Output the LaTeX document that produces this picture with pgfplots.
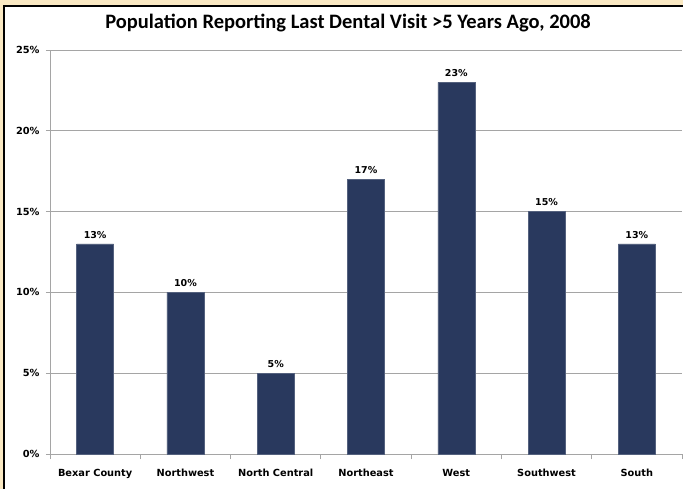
\documentclass[border=0pt]{standalone}
\usepackage{pgfplots}
\pgfplotsset{compat=1.18}
\usepackage{fontspec}
\setmainfont{DejaVu Sans}
\newfontfamily\titlefont{Carlito}
\definecolor{barblue}{RGB}{41,57,94}
\definecolor{outer}{RGB}{250,233,195}
\definecolor{gridc}{RGB}{165,165,165}
\begin{document}
\begin{tikzpicture}[x=1pt,y=1pt]
\useasboundingbox (0,0) rectangle (683,-489);
\fill[outer] (0,0) rectangle (683,-489);
\filldraw[fill=white,draw=black,line width=2pt] (4,-6) rectangle (720,-520);
\node[font=\titlefont\fontsize{20.5}{24}\selectfont\bfseries] at (348,-23) {Population Reporting Last Dental Visit >5 Years Ago, 2008};
\begin{axis}[
  scale only axis,
  width=632pt, height=404pt,
  at={(50pt,-454pt)}, anchor=south west,
  xmin=-0.5, xmax=6.5,
  ymin=0, ymax=25,
  ytick={0,5,10,15,20,25},
  yticklabel={\pgfmathprintnumber{\tick}\%},
  /pgf/number format/assume math mode=true,
  xtick={0,...,6},
  xticklabels={Bexar County,Northwest,North Central,Northeast,West,Southwest,South},
  minor xtick={-0.5,0.5,...,6.5},
  major x tick style={draw=none},
  minor x tick style={draw=gridc, line width=0.8pt},
  minor tick length=5pt,
  major tick length=4pt,
  tick align=outside,
  ytick style={draw=gridc, line width=0.8pt},
  ymajorgrids,
  grid style={gridc, line width=0.9pt},
  axis line style={gridc, line width=0.9pt},
  axis x line*=bottom,
  axis y line*=left,
  tick label style={font=\fontsize{9.8}{11}\selectfont\bfseries},
  xticklabel style={yshift=-8pt},
  yticklabel style={xshift=-3pt},
  ybar, bar width=37pt,
  nodes near coords={\pgfmathprintnumber{\pgfplotspointmeta}\%},
  nodes near coords style={font=\fontsize{9.5}{10}\selectfont\bfseries, yshift=2pt},
  clip=false,
]
\addplot[fill=barblue, draw=barblue!80!white] coordinates {(0,13) (1,10) (2,5) (3,17) (4,23) (5,15) (6,13)};
\end{axis}
\end{tikzpicture}
\end{document}
